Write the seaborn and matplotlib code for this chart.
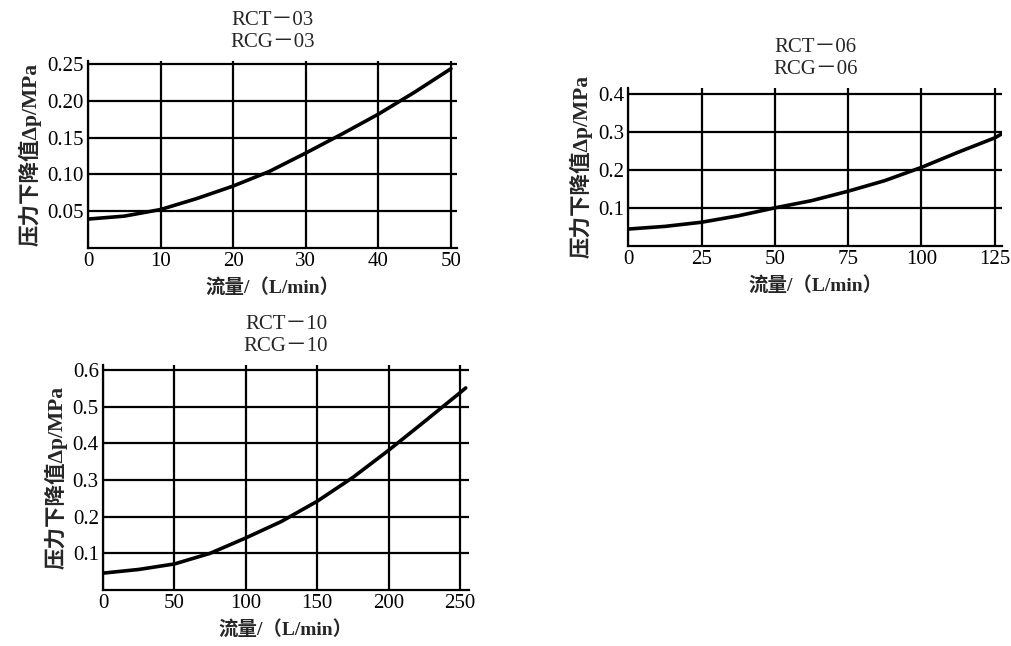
import numpy as np
import pandas as pd
import matplotlib
matplotlib.use("Agg")
import matplotlib.pyplot as plt
import seaborn as sns

sns.set_theme(style="white")
plt.rcParams['font.family'] = ['Liberation Serif', 'Noto Sans CJK SC', 'DejaVu Sans']

# ---- data ----
titles = ["RCT－03\nRCG－03", "RCT－06\nRCG－06", "RCT－10\nRCG－10"]

flow_03 = [0, 5, 10, 15, 20, 25, 30, 35, 40, 45, 50]
dp_03 = [0.039, 0.043, 0.052, 0.067, 0.084, 0.104, 0.129, 0.155, 0.182, 0.212, 0.244]

flow_06 = [0, 12.5, 25, 37.5, 50, 62.5, 75, 87.5, 100, 112.5, 125, 127.5]
dp_06 = [0.044, 0.051, 0.062, 0.079, 0.100, 0.119, 0.144, 0.172, 0.207, 0.247, 0.285, 0.296]

flow_10 = [0, 25, 50, 75, 100, 125, 150, 175, 200, 225, 250, 254]
dp_10 = [0.046, 0.056, 0.071, 0.100, 0.142, 0.187, 0.242, 0.307, 0.381, 0.459, 0.538, 0.551]

xticks_03 = [0, 10, 20, 30, 40, 50]
yticks_03 = [0.05, 0.10, 0.15, 0.20, 0.25]
ytick_labels_03 = ["0.05", "0.10", "0.15", "0.20", "0.25"]

xticks_06 = [0, 25, 50, 75, 100, 125]
yticks_06 = [0.1, 0.2, 0.3, 0.4]
ytick_labels_06 = ["0.1", "0.2", "0.3", "0.4"]

xticks_10 = [0, 50, 100, 150, 200, 250]
yticks_10 = [0.1, 0.2, 0.3, 0.4, 0.5, 0.6]
ytick_labels_10 = ["0.1", "0.2", "0.3", "0.4", "0.5", "0.6"]

xlabel = "流量/（L/min）"
ylabel = "压力下降值Δp/MPa"

fig = plt.figure(figsize=(10.11, 6.46), dpi=100)

panels = [
    dict(rect=[0.0870, 0.6166, 0.365, 0.289], x=flow_03, y=dp_03, xlim=(0, 50.83), ylim=(0, 0.2545),
         xt=xticks_03, yt=yticks_03, ytl=ytick_labels_03, title=titles[0]),
    dict(rect=[0.6215, 0.6197, 0.3696, 0.2441], x=flow_06, y=dp_06, xlim=(0, 127.5), ylim=(0, 0.417),
         xt=xticks_06, yt=yticks_06, ytl=ytick_labels_06, title=titles[1]),
    dict(rect=[0.1019, 0.0867, 0.362, 0.3483], x=flow_10, y=dp_10, xlim=(0, 256.3), ylim=(0, 0.6136),
         xt=xticks_10, yt=yticks_10, ytl=ytick_labels_10, title=titles[2]),
]

for p in panels:
    ax = fig.add_axes(p['rect'])
    df = pd.DataFrame({'x': p['x'], 'y': p['y']})
    sns.lineplot(data=df, x='x', y='y', ax=ax, color='black', linewidth=2.6, zorder=3)
    ax.set_xlim(*p['xlim'])
    ax.set_ylim(*p['ylim'])
    ax.set_xticks(p['xt'])
    ax.set_xticklabels([str(v) for v in p['xt']], fontsize=15)
    ax.set_yticks(p['yt'])
    ax.set_yticklabels(p['ytl'], fontsize=15)
    ax.grid(True, color='black', linewidth=1.6)
    ax.tick_params(length=0, pad=3, colors='black')
    for name, s in ax.spines.items():
        s.set_color('black')
        s.set_linewidth(1.6)
        if name in ('top', 'right'):
            s.set_visible(False)
    ax.set_xlabel(xlabel, fontsize=14, fontweight='bold', labelpad=5)
    ax.set_ylabel(ylabel, fontsize=15.5, fontweight='bold', labelpad=4)
    ax.set_title(p['title'], fontsize=15, linespacing=1.2, pad=10)

fig.savefig("out.png", dpi=100, facecolor='white')
